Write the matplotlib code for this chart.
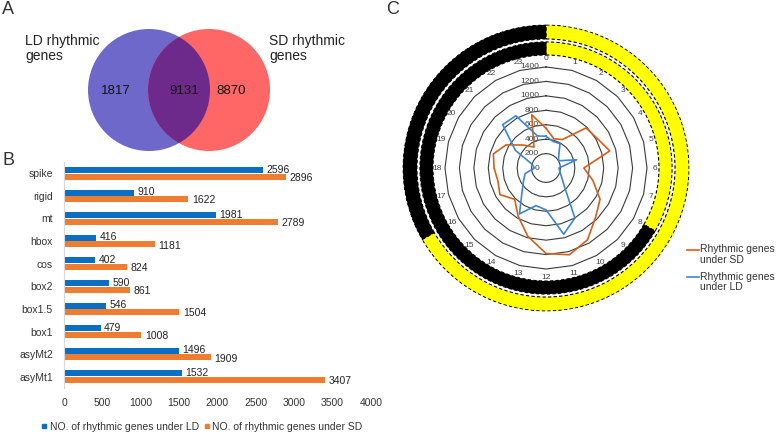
import numpy as np
import matplotlib
matplotlib.use('Agg')
import matplotlib.pyplot as plt
from matplotlib.patches import Circle
from matplotlib.lines import Line2D
from matplotlib import transforms

plt.rcParams['font.family'] = ['Liberation Sans', 'DejaVu Sans']

# --- data ---
venn_counts = ['1817', '9131', '8870']
venn_labels = ['LD rhythmic\ngenes', 'SD rhythmic\ngenes']

categories = ['spike', 'rigid', 'mt', 'hbox', 'cos', 'box2', 'box1.5', 'box1', 'asyMt2', 'asyMt1']
ld_counts = [2596, 910, 1981, 416, 402, 590, 546, 479, 1496, 1532]
sd_counts = [2896, 1622, 2789, 1181, 824, 861, 1504, 1008, 1909, 3407]

hours = np.arange(24)
sd_rhythm = [550, 420, 455, 785, 820, 915, 525, 673, 865, 970, 1150, 1245,
             1185, 978, 772, 614, 737, 690, 720, 755, 640, 450, 335, 763]
ld_rhythm = [440, 380, 390, 250, 200, 440, 180, 200, 250, 360, 800, 950,
             580, 540, 735, 470, 360, 300, 160, 200, 490, 849, 836, 460]
radial_ticks = [0, 200, 400, 600, 800, 1000, 1200, 1400]
light_hours_ld = 16
light_hours_sd = 8

fig = plt.figure(figsize=(7.77, 4.34), dpi=100)

# --- panel A: venn, drawn on a full-figure pixel canvas ---
ax0 = fig.add_axes([0, 0, 1, 1])
ax0.set_xlim(0, 777)
ax0.set_ylim(434, 0)
ax0.axis('off')

left_c = Circle((149, 90), 61, facecolor='#6D68C9', edgecolor='none')
right_c = Circle((209, 90), 61, facecolor='#FF6666', edgecolor='none')
ax0.add_patch(left_c)
ax0.add_patch(right_c)
overlap = Circle((209, 90), 61, facecolor='#6E2A8A', edgecolor='none')
ax0.add_patch(overlap)
overlap.set_clip_path(left_c)

ax0.text(25, 34, venn_labels[0], fontsize=10, va='top', ha='left',
         color='#222222', linespacing=1.1)
ax0.text(269, 34, venn_labels[1], fontsize=10, va='top', ha='left',
         color='#222222', linespacing=1.1)
for xc, s in zip([116, 184, 231], venn_counts):
    ax0.text(xc, 91, s, fontsize=9.5, ha='center', va='center', color='#111111')

for x, y, s in [(2, 1, 'A'), (2, 152, 'B'), (386, 1, 'C')]:
    ax0.text(x, y, s, fontsize=13, va='top', ha='left', color='#333333')

# --- panel B: grouped horizontal bars ---
axb = fig.add_axes([64 / 777, (434 - 388) / 434, 307 / 777, 226 / 434])
y = np.arange(len(categories))
bh = 0.26
axb.barh(y - 0.145, ld_counts, height=bh, color='#0A6FC2',
         label='NO. of rhythmic genes under LD')
axb.barh(y + 0.145, sd_counts, height=bh, color='#EE7D31',
         label='NO. of rhythmic genes under SD')
for yi, v in zip(y, ld_counts):
    axb.text(v + 45, yi - 0.16, str(v), fontsize=7.5, va='center', color='#222222')
for yi, v in zip(y, sd_counts):
    axb.text(v + 45, yi + 0.2, str(v), fontsize=7.5, va='center', color='#222222')
axb.set_xlim(0, 4000)
axb.set_ylim(len(categories) - 0.5, -0.5)
axb.set_yticks(y)
axb.set_yticklabels(categories, fontsize=7.5, color='#333333')
axb.set_xticks(np.arange(0, 4001, 500))
axb.tick_params(axis='x', length=0, labelsize=7.5, pad=7, labelcolor='#333333')
axb.tick_params(axis='y', length=0, pad=8)
for sp in ['top', 'right', 'bottom']:
    axb.spines[sp].set_visible(False)
axb.spines['left'].set_color('#D9D9D9')
axb.patch.set_alpha(0)

hb = [Line2D([], [], marker='s', ls='', color='#0A6FC2', markersize=3.5),
      Line2D([], [], marker='s', ls='', color='#EE7D31', markersize=3.5)]
fig.legend(hb, ['NO. of rhythmic genes under LD', 'NO. of rhythmic genes under SD'],
           loc='center left', bbox_to_anchor=(36 / 777, 1 - 427 / 434), ncol=2,
           frameon=False, fontsize=7.5, handlelength=0.6, handletextpad=0.2,
           columnspacing=0.5, borderpad=0, labelcolor='#333333')

# --- panel C: radar chart with light/dark rings ---
rmax = 1990
axc = fig.add_axes([402.4 / 777, (434 - 311.6) / 434, 287.2 / 777, 287.2 / 434],
                   projection='polar')
axc.set_theta_zero_location('N')
axc.set_theta_direction(-1)
axc.set_ylim(0, rmax)
axc.set_xticks([])
axc.set_yticks([])
axc.grid(False)
axc.spines['polar'].set_visible(False)
axc.patch.set_alpha(0)

theta = hours / 24 * 2 * np.pi
theta_c = np.append(theta, 2 * np.pi)
for r in radial_ticks[1:]:
    axc.plot(theta_c, np.full(25, r), color='#3A3A3A', lw=0.8, zorder=1)

dash = (0, (3, 2))
rings = [(1566, 181, light_hours_sd), (1788, 194, light_hours_ld)]
for bottom, height, nlight in rings:
    a_light = nlight / 24 * 2 * np.pi
    axc.bar(a_light / 2, height, width=a_light, bottom=bottom, color='#FFFF00',
            edgecolor='black', linewidth=0.8, linestyle=dash)
    axc.bar(a_light + (2 * np.pi - a_light) / 2, height, width=2 * np.pi - a_light,
            bottom=bottom, color='black', edgecolor='black', linewidth=0.8,
            linestyle=dash)

for h, t in zip(hours, theta):
    axc.text(t, 1511, str(h), fontsize=6, ha='center', va='center', color='#404040')

lab_tr = transforms.offset_copy(axc.transData, fig=fig, x=-7, y=0, units='dots')
for r in radial_ticks:
    axc.text(0, r, str(r), fontsize=6, ha='right', va='center', color='#404040',
             transform=lab_tr)

l_sd, = axc.plot(theta_c, np.append(sd_rhythm, sd_rhythm[0]), color='#D2601A',
                 lw=1.2, zorder=3)
l_ld, = axc.plot(theta_c, np.append(ld_rhythm, ld_rhythm[0]), color='#3A87CF',
                 lw=1.2, zorder=3)

# legend for C: handle sits beside the first line of each two-line label
for yy, ln, lab in [(250, l_sd, 'Rhythmic genes\nunder SD'),
                    (277, l_ld, 'Rhythmic genes\nunder LD')]:
    ax0.plot([687, 699], [yy, yy], color=ln.get_color(), lw=1.2)
    ax0.text(700, yy - 5.5, lab, fontsize=7.5, va='top', ha='left',
             color='#333333', linespacing=1.05)

fig.savefig('out.png', dpi=100)
